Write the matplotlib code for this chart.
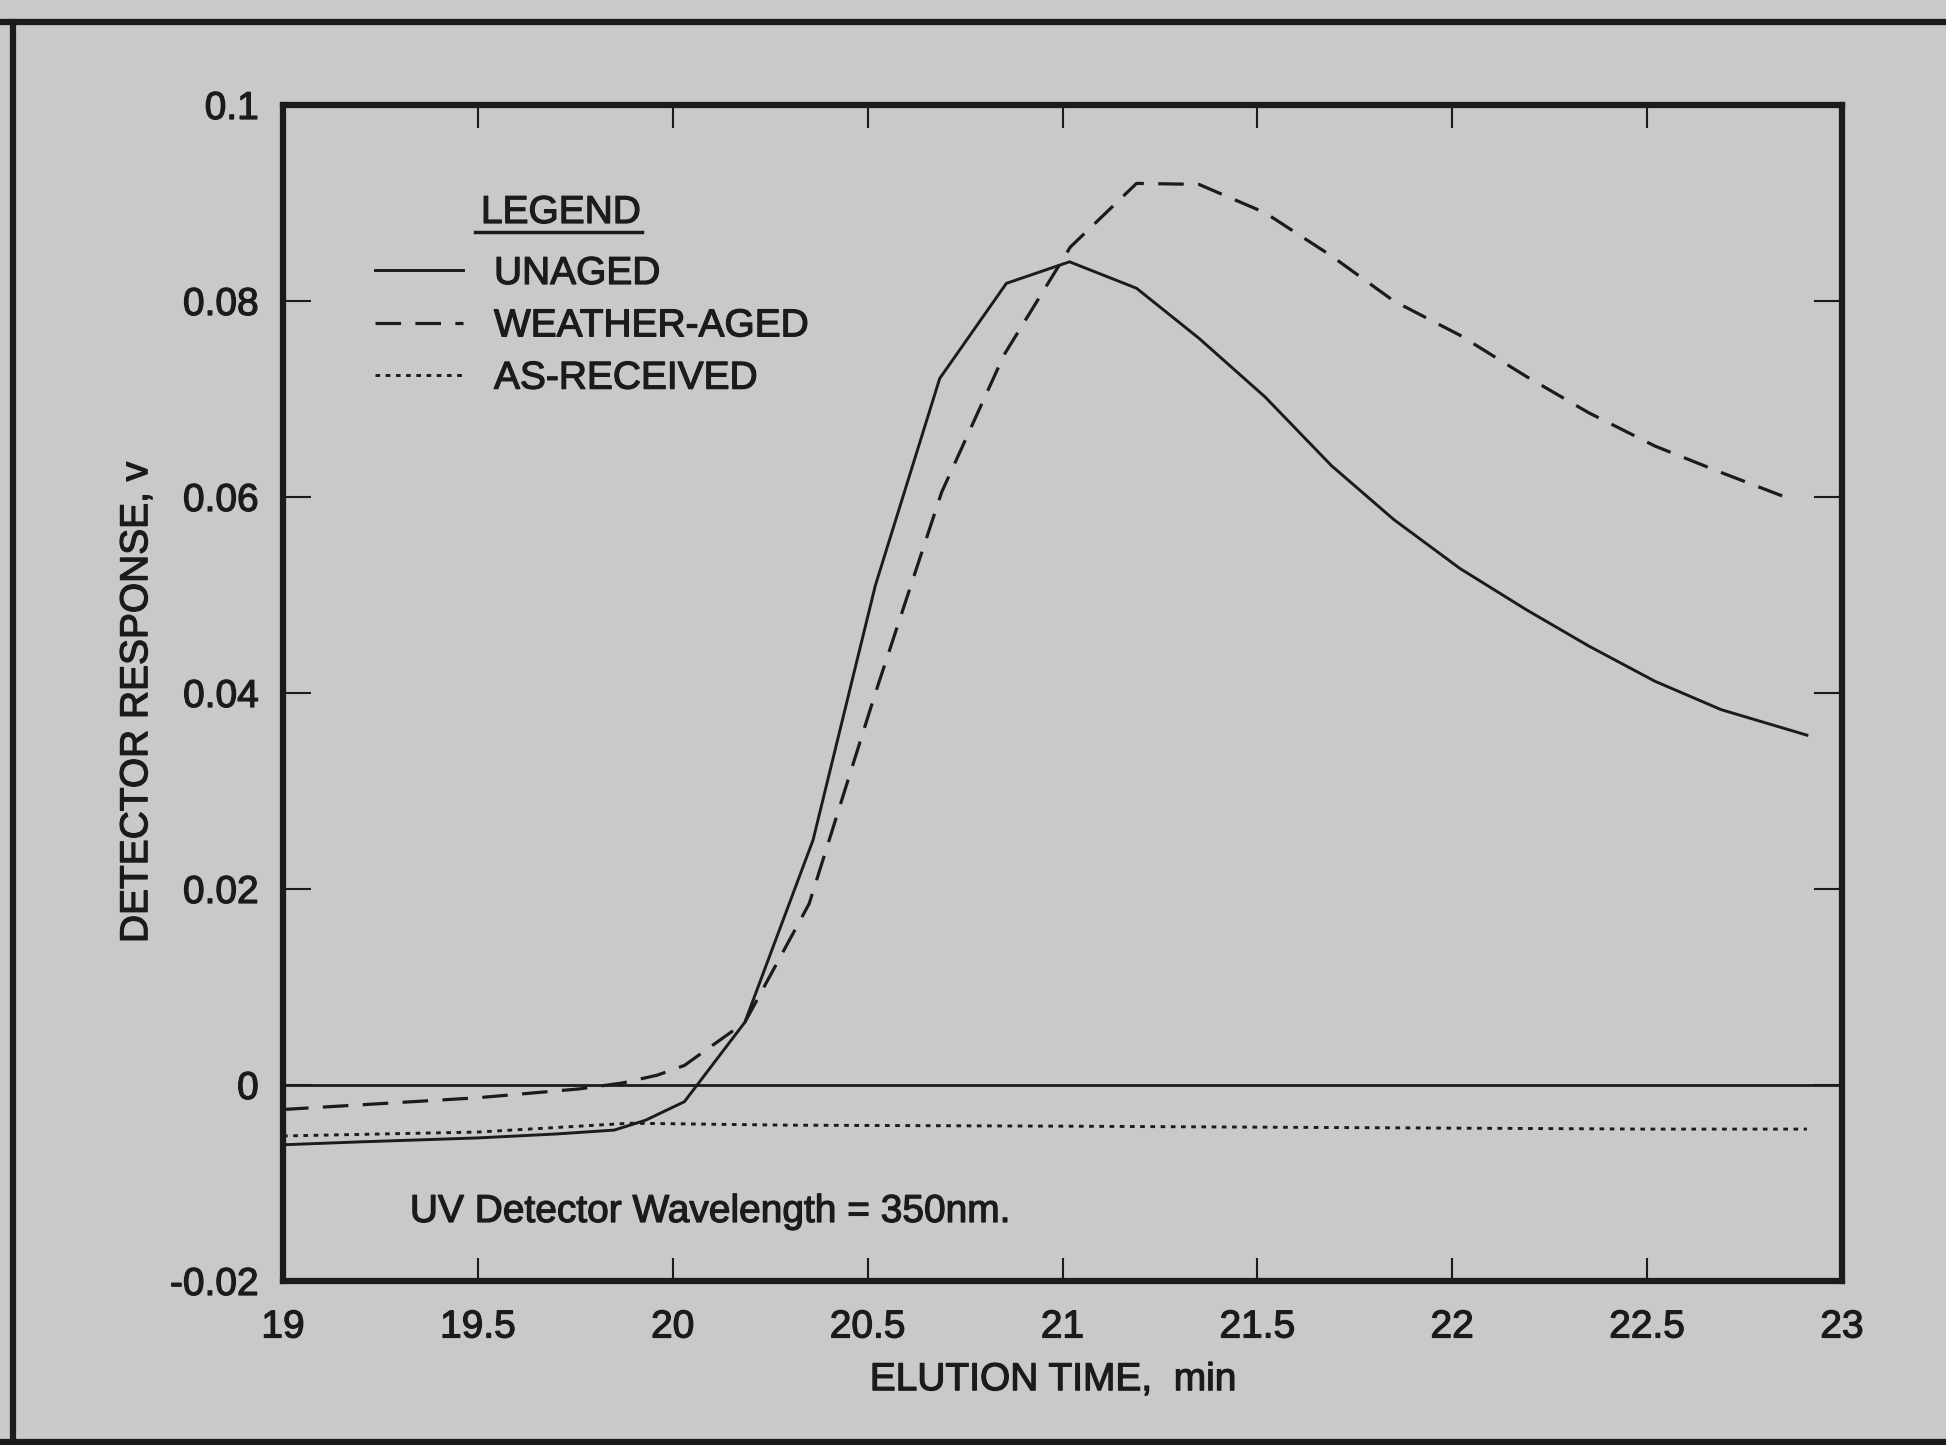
import matplotlib
matplotlib.use("Agg")
import matplotlib.pyplot as plt
from matplotlib.lines import Line2D
import matplotlib.patheffects as pe

# Chromatograms: elution time (min) vs. UV detector response (V)
time_unaged = [19.0, 19.2, 19.5, 19.7, 19.85, 19.93, 20.03, 20.185, 20.36, 20.52,
               20.685, 20.856, 21.018, 21.19, 21.35, 21.52, 21.69, 21.85, 22.02,
               22.19, 22.35, 22.52, 22.69, 22.91]
resp_unaged = [-0.0061, -0.0058, -0.0054, -0.0050, -0.0046, -0.0036, -0.0017, 0.0064,
               0.0250, 0.0510, 0.0721, 0.0818, 0.0840, 0.0813, 0.0762, 0.0702, 0.0632,
               0.0577, 0.0527, 0.0485, 0.0448, 0.0412, 0.0383, 0.0357]

time_weather = [19.0, 19.25, 19.5, 19.76, 19.87, 19.96, 20.03, 20.185, 20.35, 20.52,
                20.69, 20.85, 21.02, 21.19, 21.35, 21.52, 21.69, 21.85, 22.02, 22.19,
                22.35, 22.52, 22.69, 22.88]
resp_weather = [-0.0025, -0.0019, -0.0013, -0.0004, 0.0002, 0.0010, 0.0020, 0.0064,
                0.0185, 0.0400, 0.0605, 0.0745, 0.0855, 0.0920, 0.0919, 0.0890, 0.0846,
                0.0800, 0.0765, 0.0723, 0.0686, 0.0652, 0.0625, 0.0596]

time_received = [19.0, 19.5, 19.89, 20.3, 21.0, 21.5, 22.0, 22.5, 22.91]
resp_received = [-0.0052, -0.0048, -0.0039, -0.0041, -0.0042, -0.0043, -0.0044,
                 -0.0045, -0.0045]

series_labels = ["UNAGED", "WEATHER-AGED", "AS-RECEIVED"]

x_ticks = [19, 19.5, 20, 20.5, 21, 21.5, 22, 22.5, 23]
x_tick_labels = ["19", "19.5", "20", "20.5", "21", "21.5", "22", "22.5", "23"]
y_ticks = [-0.02, 0, 0.02, 0.04, 0.06, 0.08, 0.1]
y_tick_labels = ["-0.02", "0", "0.02", "0.04", "0.06", "0.08", "0.1"]

paper = "#c8cac9"
ink = "#1b1b1b"
fs = 28
# slightly heavier print for all lettering
heavy = [pe.withStroke(linewidth=0.9, foreground=ink)]

plt.rcParams["font.family"] = ["Liberation Sans", "DejaVu Sans"]

W, H = 1946, 1445
fig = plt.figure(figsize=(W / 100, H / 100), dpi=100, facecolor=paper)

# page frame lines (top, left, bottom)
frame_kw = dict(color=ink, lw=4.5, transform=fig.transFigure)
fig.add_artist(Line2D([0, 1], [1 - 22 / H, 1 - 22 / H], **frame_kw))
fig.add_artist(Line2D([13 / W, 13 / W], [0, 1 - 22 / H], **frame_kw))
fig.add_artist(Line2D([0, 1], [1 - 1442 / H, 1 - 1442 / H], **frame_kw))

ax = fig.add_axes([283 / W, 1 - 1281 / H, (1842 - 283) / W, (1281 - 105) / H])
ax.set_facecolor(paper)

ax.axhline(0, color=ink, lw=2.0, zorder=1)

ax.plot(time_unaged, resp_unaged, color=ink, lw=2.1, solid_joinstyle="miter",
        label=series_labels[0])
ax.plot(time_weather, resp_weather, color=ink, lw=2.3, dashes=(8, 4.5),
        label=series_labels[1])
ax.plot(time_received, resp_received, color=ink, lw=2.1, dashes=(1.6, 1.9),
        label=series_labels[2])

ax.set_xlim(19, 23)
ax.set_ylim(-0.02, 0.1)
ax.set_xticks(x_ticks, x_tick_labels)
ax.set_yticks(y_ticks, y_tick_labels)

for s in ax.spines.values():
    s.set_linewidth(4.5)
    s.set_color(ink)

ax.tick_params(axis="x", direction="in", length=16.5, width=1.5, top=True,
               bottom=True, pad=20.5, labelsize=fs, colors=ink)
ax.tick_params(axis="y", direction="in", length=20, width=1.5, left=True,
               right=True, pad=17.5, labelsize=fs, colors=ink)
for lbl in ax.get_xticklabels() + ax.get_yticklabels():
    lbl.set_path_effects(heavy)

ax.set_xlabel("ELUTION TIME,  min", fontsize=fs, color=ink, path_effects=heavy)
ax.xaxis.set_label_coords(0.494, -0.069)
ax.set_ylabel("DETECTOR RESPONSE, v", fontsize=fs, color=ink, path_effects=heavy)
ax.yaxis.set_label_coords(-0.082, 0.492)

# legend block with underlined heading
ax.text(561 / W, 1 - 213 / H, "LEGEND", transform=fig.transFigure, fontsize=fs,
        color=ink, ha="center", va="center", path_effects=heavy)
fig.add_artist(Line2D([475 / W, 642 / W], [1 - 232 / H, 1 - 232 / H], color=ink,
                      lw=2.5, transform=fig.transFigure))
leg = ax.legend(loc="upper left", bbox_to_anchor=(375 / W, 1 - 256 / H),
                bbox_transform=fig.transFigure, frameon=False, fontsize=fs,
                handlelength=2.26, handletextpad=0.8, labelspacing=0.42,
                borderpad=0, borderaxespad=0)
for t in leg.get_texts():
    t.set_color(ink)
    t.set_path_effects(heavy)

ax.text(0.0814, 0.0587, "UV Detector Wavelength = 350nm.", transform=ax.transAxes,
        fontsize=fs, color=ink, ha="left", va="center", path_effects=heavy)

fig.savefig("out.png", dpi=100, facecolor=paper)
